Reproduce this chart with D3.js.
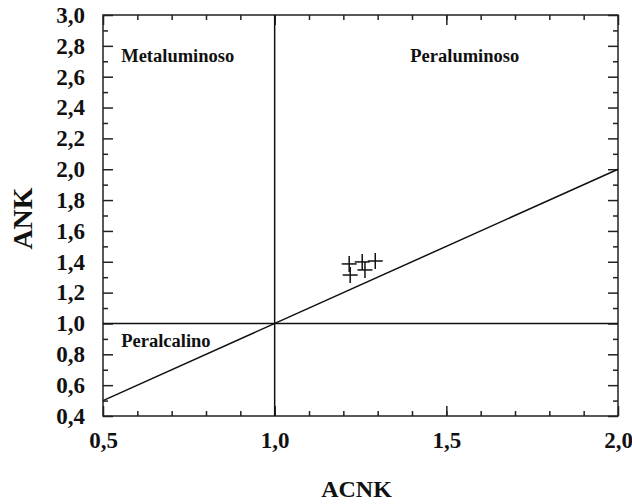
<!DOCTYPE html>
<html>
<head>
<meta charset="utf-8">
<script src="https://cdn.jsdelivr.net/npm/d3@7"></script>
<style>
  body { margin: 0; background: #fff; }
  svg text { font-family: "Liberation Serif", "Times New Roman", serif; font-weight: bold; fill: #111; }
</style>
</head>
<body>
<svg width="632" height="504"></svg>
<script>
// samples (ACNK, ANK)
const acnk = [1.217, 1.255, 1.293, 1.220, 1.263];
const ank = [1.386, 1.399, 1.405, 1.314, 1.347];

const xMajor = [0.5, 1.0, 1.5, 2.0];
const yMajor = [0.4, 0.6, 0.8, 1.0, 1.2, 1.4, 1.6, 1.8, 2.0, 2.2, 2.4, 2.6, 2.8, 3.0];

// field boundaries
const dividers = [
  { x1: 1.0, y1: 0.4, x2: 1.0, y2: 3.0 },
  { x1: 0.5, y1: 1.0, x2: 2.0, y2: 1.0 },
  { x1: 0.5, y1: 0.5, x2: 2.0, y2: 2.0 }
];
const fieldNames = ['Metaluminoso', 'Peraluminoso', 'Peralcalino'];
const fieldPos = [[0.553, 2.695], [1.395, 2.695], [0.553, 0.848]];

const margin = { left: 103, right: 14, top: 15, bottom: 88 };
const width = 632, height = 504;

const svg = d3.select('svg');

const x = d3.scaleLinear().domain([0.5, 2.0]).range([margin.left, width - margin.right]);
const y = d3.scaleLinear().domain([0.4, 3.0]).range([height - margin.bottom, margin.top]);

const fmt = d => d3.format('.1f')(d).replace('.', ',');
const xMinor = d3.range(6, 20).map(d => d / 10);
const yMinor = d3.range(5, 30, 2).map(d => d / 10);

function styleAxis(g) {
  g.select('.domain').remove();
  g.selectAll('line').attr('stroke', '#222').attr('stroke-width', 1.5);
  g.selectAll('text').style('font-size', '23px').attr('fill', '#111');
}

// bottom
svg.append('g').attr('transform', `translate(0,${y(0.4)})`)
  .call(d3.axisBottom(x).tickValues(xMinor).tickSize(-5).tickFormat(''))
  .call(styleAxis);
svg.append('g').attr('transform', `translate(0,${y(0.4)})`)
  .call(d3.axisBottom(x).tickValues(xMajor).tickSize(-10).tickPadding(16).tickFormat(fmt))
  .call(styleAxis);
// top
svg.append('g').attr('transform', `translate(0,${y(3.0)})`)
  .call(d3.axisTop(x).tickValues(xMinor).tickSize(-5).tickFormat(''))
  .call(styleAxis);
svg.append('g').attr('transform', `translate(0,${y(3.0)})`)
  .call(d3.axisTop(x).tickValues(xMajor).tickSize(-10).tickFormat(''))
  .call(styleAxis);
// left
svg.append('g').attr('transform', `translate(${x(0.5)},0)`)
  .call(d3.axisLeft(y).tickValues(yMinor).tickSize(-5).tickFormat(''))
  .call(styleAxis);
svg.append('g').attr('transform', `translate(${x(0.5)},0)`)
  .call(d3.axisLeft(y).tickValues(yMajor).tickSize(-10).tickPadding(18).tickFormat(fmt))
  .call(styleAxis);
// right
svg.append('g').attr('transform', `translate(${x(2.0)},0)`)
  .call(d3.axisRight(y).tickValues(yMinor).tickSize(-5).tickFormat(''))
  .call(styleAxis);
svg.append('g').attr('transform', `translate(${x(2.0)},0)`)
  .call(d3.axisRight(y).tickValues(yMajor).tickSize(-10).tickFormat(''))
  .call(styleAxis);

// frame
svg.append('rect')
  .attr('x', x(0.5)).attr('y', y(3.0))
  .attr('width', x(2.0) - x(0.5)).attr('height', y(0.4) - y(3.0))
  .attr('fill', 'none').attr('stroke', '#222').attr('stroke-width', 1.5);

svg.append('g').selectAll('line').data(dividers).enter().append('line')
  .attr('x1', d => x(d.x1)).attr('y1', d => y(d.y1))
  .attr('x2', d => x(d.x2)).attr('y2', d => y(d.y2))
  .attr('stroke', '#111').attr('stroke-width', 1.5);

// field labels
svg.append('g').selectAll('text').data(fieldNames).enter().append('text')
  .attr('x', (d, i) => x(fieldPos[i][0]))
  .attr('y', (d, i) => y(fieldPos[i][1]))
  .style('font-size', '18.5px')
  .text(d => d);

// crosses
const pts = acnk.map((v, i) => ({ x: v, y: ank[i] }));
const cross = svg.append('g').selectAll('g').data(pts).enter().append('g')
  .attr('transform', d => `translate(${x(d.x)},${y(d.y)})`);
cross.append('line').attr('x1', -7.5).attr('x2', 7.5).attr('stroke', '#111').attr('stroke-width', 1.5);
cross.append('line').attr('y1', -8).attr('y2', 8).attr('stroke', '#111').attr('stroke-width', 1.5);

// axis titles
svg.append('text')
  .attr('x', (x(0.5) + x(2.0)) / 2 - 4).attr('y', 497)
  .attr('text-anchor', 'middle').style('font-size', '24px')
  .text('ACNK');
svg.append('text')
  .attr('transform', `translate(32,${(y(0.4) + y(3.0)) / 2 + 3}) rotate(-90)`)
  .attr('text-anchor', 'middle').style('font-size', '28px')
  .text('ANK');
</script>
</body>
</html>
